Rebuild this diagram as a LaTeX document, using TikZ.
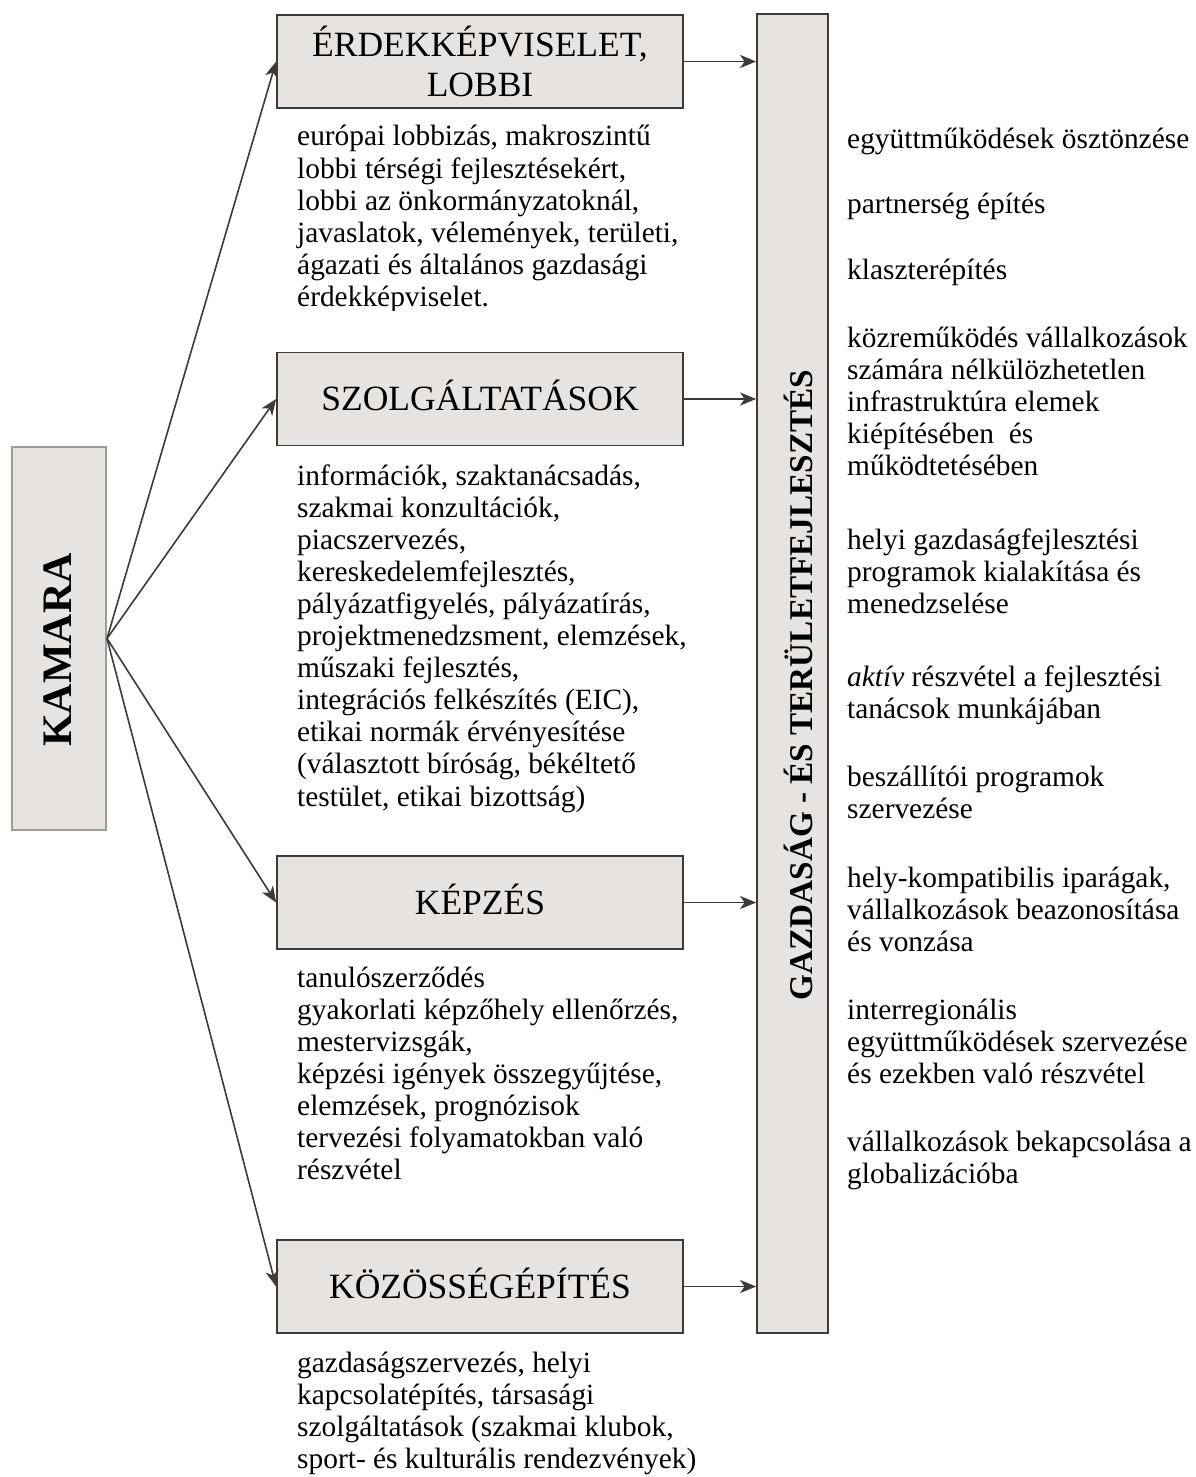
\documentclass[tikz,border=0pt]{standalone}
\usepackage{fontspec}
\setmainfont{Liberation Serif}
\usetikzlibrary{arrows.meta}
\definecolor{boxfill}{HTML}{E7E3E0}
\definecolor{boxline}{HTML}{3A3A3F}
\definecolor{kamline}{HTML}{A39A95}
\definecolor{arr}{HTML}{3A3A3F}
\newcommand{\bodyfont}{\fontsize{29.4}{32.1}\selectfont}
\newcommand{\boxfont}{\fontsize{35.5}{39.7}\selectfont}
\newcommand{\blk}[1]{\parbox[t]{440pt}{\raggedright #1}}
\begin{document}
\begin{tikzpicture}[x=1pt,y=-1pt,
  topicbox/.style={draw=boxline, line width=1.8pt, fill=boxfill, minimum width=406pt, minimum height=93pt, inner sep=0pt, font=\boxfont, align=center},
  onebox/.style={topicbox, text height=23.5pt, text depth=0pt},
  conn/.style={draw=arr, line width=1.6pt, -{Stealth[length=16pt,width=13pt,inset=4.5pt]}},
  txt/.style={anchor=base west, inner sep=0pt, font=\bodyfont}]
\useasboundingbox (0,0) rectangle (1196,1477);

% main boxes
\node[draw=kamline, line width=2pt, fill=boxfill, minimum width=94pt, minimum height=383pt, inner sep=0pt] (kam) at (59,638.5) {};
\node[rotate=90, inner sep=0pt, font=\fontsize{42}{48}\selectfont\bfseries] (kamt) at (58,650) {KAMARA};

\node[draw=boxline, line width=1.8pt, fill=boxfill, minimum width=71pt, minimum height=1319pt, inner sep=0pt] (g) at (792.5,673.5) {};
\node[rotate=90, inner sep=0pt, font=\fontsize{33.2}{38}\selectfont\bfseries] (gt) at (798,685) {GAZDASÁG - ÉS TERÜLETFEJLESZTÉS};

\node[topicbox] (b1) at (480,61.5) {ÉRDEKKÉPVISELET,\\LOBBI};
\node[onebox] (b2) at (480,399) {SZOLGÁLTATÁSOK};
\node[onebox] (b3) at (480,902.5) {KÉPZÉS};
\node[onebox] (b4) at (480,1286.5) {KÖZÖSSÉGÉPÍTÉS};

% connectors
\draw[conn] (kam.east) -- (b1.west);
\draw[conn] (kam.east) -- (b2.west);
\draw[conn] (kam.east) -- (b3.west);
\draw[conn] (kam.east) -- (b4.west);
\draw[conn] (b1.east) -- (b1.east -| g.west);
\draw[conn] (b2.east) -- (b2.east -| g.west);
\draw[conn] (b3.east) -- (b3.east -| g.west);
\draw[conn] (b4.east) -- (b4.east -| g.west);

% left texts
\begin{scope}
\clip (280,110) rectangle (720,310);
\node[txt] (l1) at (297,146) {\blk{európai lobbizás, makroszintű\\lobbi térségi fejlesztésekért,\\lobbi az önkormányzatoknál,\\javaslatok, vélemények, területi,\\ágazati és általános gazdasági\\érdekképviselet.}};
\end{scope}
\node[txt] (l2) at (297,485) {\blk{információk, szaktanácsadás,\\szakmai konzultációk,\\piacszervezés,\\kereskedelemfejlesztés,\\pályázatfigyelés, pályázatírás,\\projektmenedzsment, elemzések,\\műszaki fejlesztés,\\integrációs felkészítés (EIC),\\etikai normák érvényesítése\\(választott bíróság, békéltető\\testület, etikai bizottság)}};
\node[txt] (l3) at (297,987) {\blk{tanulószerződés\\gyakorlati képzőhely ellenőrzés,\\mestervizsgák,\\képzési igények összegyűjtése,\\elemzések, prognózisok\\tervezési folyamatokban való\\részvétel}};
\node[txt] (l4) at (297,1372) {\blk{gazdaságszervezés, helyi\\kapcsolatépítés, társasági\\szolgáltatások (szakmai klubok,\\sport- és kulturális rendezvények)}};

% right texts
\node[txt] (r1) at (847,148) {\blk{együttműködések ösztönzése}};
\node[txt] (r2) at (847,213) {\blk{partnerség építés}};
\node[txt] (r3) at (847,279) {\blk{klaszterépítés}};
\node[txt] (r4) at (847,347) {\blk{közreműködés vállalkozások\\számára nélkülözhetetlen\\infrastruktúra elemek\\kiépítésében\ \ és\\működtetésében}};
\node[txt] (r5) at (847,549) {\blk{helyi gazdaságfejlesztési\\programok kialakítása és\\menedzselése}};
\node[txt] (r6) at (847,686) {\blk{\textit{aktív} részvétel a fejlesztési\\tanácsok munkájában}};
\node[txt] (r7) at (847,786) {\blk{beszállítói programok\\szervezése}};
\node[txt] (r8) at (847,887) {\blk{hely-kompatibilis iparágak,\\vállalkozások beazonosítása\\és vonzása}};
\node[txt] (r9) at (847,1019) {\blk{interregionális\\együttműködések szervezése\\és ezekben való részvétel}};
\node[txt] (r10) at (847,1151) {\blk{vállalkozások bekapcsolása a\\globalizációba}};
\end{tikzpicture}
\end{document}
